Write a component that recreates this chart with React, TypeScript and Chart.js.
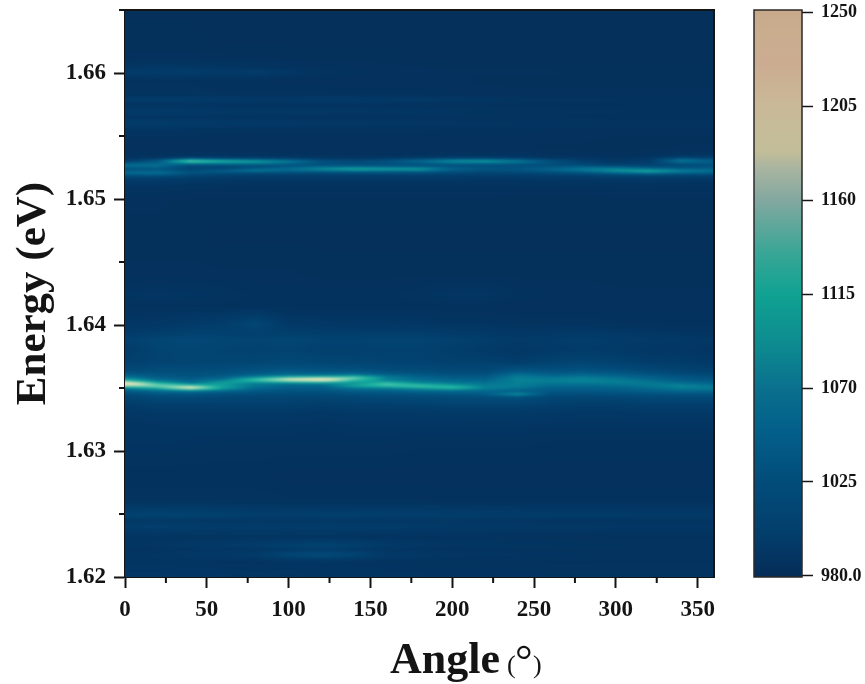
import React, { useEffect, useRef } from "react";
import { Chart, registerables } from "chart.js";

Chart.register(...registerables);

const FONT = "'Liberation Serif', 'Times New Roman', serif";
const INK = "#141414";

const angles = [0, 20, 40, 60, 80, 100, 120, 140, 160, 180, 200, 220, 240, 260, 280, 300, 320, 340, 360];
const xMajor = [0, 50, 100, 150, 200, 250, 300, 350];
const xMinor = [25, 75, 125, 175, 225, 275, 325];
const yMajor = [1.62, 1.63, 1.64, 1.65, 1.66];
const yMinor = [1.625, 1.635, 1.645, 1.655, 1.665];
const barTicks = [980, 1025, 1070, 1115, 1160, 1205, 1250];
const barRange = [979.5, 1251];

const energies = [
  1.665, 1.6626, 1.6612, 1.6604, 1.6601, 1.6594, 1.6583, 1.6579, 1.6575, 1.6569, 1.6565, 1.656, 1.6555, 1.6547, 1.654,
  1.6536, 1.65333, 1.65317, 1.65302, 1.65286, 1.6527, 1.65254, 1.65238, 1.65222, 1.65206, 1.65183, 1.65151, 1.65087, 1.6499,
  1.647, 1.644, 1.6424, 1.6415, 1.6401, 1.6393, 1.63881, 1.63802, 1.63706, 1.63643, 1.63611, 1.63595, 1.63579, 1.63563,
  1.63548, 1.63532, 1.63516, 1.635, 1.63484, 1.63468, 1.63452, 1.63429, 1.63373, 1.6331, 1.632, 1.6306, 1.628, 1.626,
  1.6249, 1.6245, 1.624, 1.6232, 1.6225, 1.6222, 1.6218, 1.6212, 1.62,
];

const intensity = [
  [984, 984, 984, 984, 984, 984, 984, 984, 984, 984, 984, 984, 984, 984, 984, 984, 984, 984, 984],
  [985, 985, 985, 984, 984, 984, 984, 984, 984, 984, 984, 984, 984, 984, 984, 984, 984, 984, 984],
  [986, 986, 986, 986, 986, 985, 985, 985, 985, 984, 984, 984, 984, 984, 984, 984, 984, 984, 984],
  [994, 998, 996, 994, 992, 990, 988, 987, 986, 986, 985, 985, 985, 985, 985, 985, 985, 985, 985],
  [1002, 1004, 1003, 1000, 1003, 996, 990, 988, 987, 986, 986, 986, 986, 986, 985, 985, 985, 985, 985],
  [988, 988, 988, 987, 987, 986, 986, 986, 986, 986, 986, 985, 985, 985, 985, 985, 985, 985, 985],
  [990, 990, 990, 989, 989, 989, 989, 988, 988, 988, 987, 987, 986, 986, 986, 986, 986, 986, 986],
  [1002, 1003, 1002, 1000, 998, 998, 1000, 1000, 998, 998, 995, 994, 992, 990, 990, 989, 988, 988, 988],
  [992, 992, 991, 990, 990, 990, 990, 990, 990, 989, 988, 988, 987, 987, 987, 987, 987, 987, 987],
  [1000, 1000, 999, 997, 996, 996, 996, 995, 994, 994, 993, 992, 990, 990, 989, 989, 988, 988, 988],
  [992, 992, 991, 991, 990, 990, 990, 990, 990, 989, 989, 988, 988, 988, 988, 987, 987, 987, 987],
  [1003, 1002, 1000, 999, 998, 997, 996, 996, 995, 994, 994, 993, 992, 992, 991, 990, 990, 990, 990],
  [992, 992, 991, 990, 990, 990, 990, 989, 989, 989, 988, 988, 988, 987, 987, 987, 987, 987, 987],
  [987, 987, 987, 986, 986, 986, 986, 986, 986, 986, 986, 986, 986, 986, 986, 985, 985, 985, 985],
  [986, 986, 986, 986, 986, 986, 986, 986, 986, 986, 986, 986, 986, 985, 985, 985, 985, 986, 986],
  [987, 988, 990, 990, 990, 988, 987, 987, 987, 988, 990, 990, 990, 988, 986, 986, 987, 990, 990],
  [988, 990, 996, 995, 995, 992, 990, 990, 990, 992, 995, 995, 995, 990, 990, 988, 990, 1002, 1000],
  [992, 1010, 1060, 1040, 1030, 1018, 1004, 1000, 1008, 1025, 1040, 1040, 1025, 1006, 998, 992, 998, 1045, 1025],
  [1002, 1045, 1150, 1115, 1095, 1070, 1032, 1022, 1032, 1055, 1085, 1095, 1070, 1032, 1006, 995, 1002, 1070, 1045],
  [1032, 1040, 1085, 1078, 1075, 1058, 1028, 1022, 1028, 1042, 1060, 1062, 1052, 1028, 1012, 1000, 1006, 1040, 1036],
  [1062, 1062, 1030, 1032, 1036, 1030, 1028, 1026, 1026, 1026, 1028, 1028, 1026, 1025, 1020, 1010, 1010, 1018, 1030],
  [1046, 1050, 1016, 1016, 1022, 1040, 1056, 1060, 1056, 1050, 1036, 1028, 1028, 1036, 1046, 1044, 1030, 1030, 1032],
  [1030, 1032, 1016, 1020, 1048, 1060, 1085, 1105, 1098, 1095, 1050, 1035, 1036, 1050, 1070, 1078, 1062, 1048, 1044],
  [1042, 1048, 1026, 1050, 1068, 1048, 1050, 1060, 1058, 1056, 1036, 1024, 1028, 1040, 1058, 1085, 1108, 1078, 1062],
  [1058, 1062, 1034, 1022, 1018, 1022, 1022, 1024, 1024, 1024, 1018, 1014, 1016, 1020, 1030, 1048, 1060, 1045, 1040],
  [1022, 1022, 1012, 1006, 1004, 1003, 1003, 1003, 1003, 1003, 1003, 1002, 1003, 1004, 1006, 1008, 1010, 1008, 1006],
  [1000, 1000, 997, 995, 994, 994, 994, 994, 994, 994, 994, 993, 993, 994, 994, 995, 995, 994, 994],
  [990, 990, 989, 988, 988, 988, 988, 988, 988, 988, 988, 988, 987, 987, 987, 988, 988, 988, 988],
  [986, 986, 985, 985, 985, 985, 985, 985, 985, 985, 985, 985, 985, 985, 985, 985, 985, 985, 985],
  [985, 985, 985, 984, 984, 984, 984, 984, 984, 984, 984, 984, 984, 984, 984, 984, 984, 984, 984],
  [986, 986, 986, 986, 986, 986, 985, 985, 985, 985, 985, 985, 985, 985, 985, 985, 985, 985, 985],
  [992, 994, 992, 990, 988, 988, 988, 988, 988, 990, 994, 994, 988, 987, 987, 986, 986, 986, 986],
  [988, 988, 988, 988, 987, 987, 987, 987, 987, 987, 987, 987, 986, 986, 986, 986, 986, 986, 986],
  [994, 996, 1000, 1004, 1016, 998, 996, 995, 995, 994, 992, 992, 990, 990, 990, 989, 988, 988, 988],
  [1002, 1006, 1010, 1010, 1008, 1008, 1006, 1006, 1006, 1006, 1002, 999, 996, 998, 999, 998, 995, 993, 991],
  [1008, 1016, 1020, 1016, 1013, 1016, 1012, 1012, 1013, 1013, 1010, 1005, 1000, 1003, 1005, 1002, 1000, 998, 995],
  [1002, 1012, 1015, 1012, 1010, 1012, 1008, 1008, 1010, 1010, 1005, 1000, 995, 1000, 1002, 1000, 995, 995, 992],
  [1008, 1012, 1014, 1015, 1016, 1020, 1016, 1014, 1012, 1012, 1008, 1008, 1004, 1010, 1014, 1010, 1004, 1002, 998],
  [1020, 1024, 1024, 1026, 1030, 1034, 1030, 1030, 1024, 1022, 1018, 1018, 1032, 1028, 1030, 1026, 1018, 1012, 1008],
  [1036, 1032, 1030, 1032, 1042, 1050, 1048, 1052, 1040, 1034, 1028, 1028, 1052, 1042, 1046, 1040, 1032, 1022, 1016],
  [1052, 1038, 1032, 1040, 1060, 1080, 1085, 1100, 1062, 1044, 1036, 1036, 1068, 1055, 1060, 1052, 1040, 1030, 1024],
  [1075, 1046, 1038, 1050, 1100, 1160, 1180, 1155, 1072, 1052, 1042, 1042, 1072, 1066, 1072, 1062, 1048, 1036, 1030],
  [1105, 1060, 1046, 1068, 1135, 1195, 1240, 1125, 1072, 1060, 1050, 1050, 1074, 1072, 1076, 1070, 1056, 1042, 1036],
  [1175, 1085, 1055, 1090, 1095, 1115, 1125, 1095, 1095, 1070, 1060, 1058, 1072, 1070, 1072, 1072, 1064, 1050, 1044],
  [1248, 1135, 1080, 1095, 1065, 1060, 1065, 1085, 1140, 1095, 1075, 1064, 1072, 1062, 1062, 1066, 1068, 1064, 1054],
  [1155, 1155, 1155, 1090, 1065, 1050, 1050, 1100, 1120, 1135, 1105, 1070, 1072, 1052, 1052, 1056, 1064, 1078, 1064],
  [1075, 1115, 1215, 1100, 1055, 1042, 1042, 1065, 1075, 1095, 1125, 1075, 1064, 1046, 1046, 1048, 1056, 1070, 1070],
  [1048, 1068, 1095, 1066, 1042, 1036, 1036, 1048, 1052, 1062, 1066, 1058, 1048, 1040, 1040, 1042, 1048, 1058, 1058],
  [1034, 1048, 1052, 1042, 1034, 1030, 1030, 1038, 1040, 1046, 1048, 1048, 1048, 1034, 1034, 1036, 1040, 1044, 1044],
  [1024, 1034, 1036, 1030, 1026, 1024, 1024, 1028, 1030, 1034, 1036, 1042, 1088, 1028, 1026, 1028, 1030, 1034, 1034],
  [1014, 1022, 1022, 1018, 1016, 1016, 1016, 1018, 1022, 1022, 1024, 1026, 1028, 1018, 1016, 1018, 1020, 1022, 1022],
  [1002, 1008, 1008, 1008, 1008, 1008, 1005, 1008, 1008, 1010, 1012, 1012, 1012, 1008, 1005, 1005, 1008, 1008, 1008],
  [996, 998, 998, 998, 998, 998, 997, 998, 998, 999, 1000, 1000, 1000, 998, 997, 997, 998, 998, 998],
  [992, 993, 993, 993, 993, 993, 992, 993, 993, 993, 993, 993, 993, 992, 992, 992, 992, 992, 992],
  [992, 992, 991, 990, 990, 990, 990, 990, 990, 989, 989, 989, 989, 988, 988, 988, 988, 988, 988],
  [987, 987, 987, 987, 987, 986, 986, 986, 986, 986, 986, 986, 986, 986, 986, 986, 986, 986, 986],
  [990, 990, 990, 990, 990, 989, 989, 989, 989, 989, 988, 988, 988, 988, 988, 988, 988, 988, 988],
  [1012, 1014, 1012, 1010, 1006, 1006, 1008, 1008, 1007, 1006, 1005, 1004, 1003, 1002, 1002, 1002, 1000, 1000, 1000],
  [996, 996, 996, 995, 995, 995, 995, 995, 995, 994, 994, 993, 993, 992, 992, 992, 992, 992, 992],
  [1004, 1006, 1004, 1002, 1004, 1002, 1004, 1003, 1002, 1000, 998, 998, 996, 996, 996, 995, 995, 995, 995],
  [992, 992, 991, 991, 991, 991, 991, 990, 990, 990, 990, 990, 989, 989, 989, 988, 988, 988, 988],
  [992, 994, 997, 1000, 1003, 1008, 1014, 1008, 1000, 996, 994, 993, 992, 992, 991, 991, 990, 990, 990],
  [990, 991, 992, 992, 994, 998, 1000, 998, 992, 991, 990, 990, 989, 989, 988, 988, 988, 988, 988],
  [992, 994, 996, 998, 1002, 1016, 1024, 1014, 1000, 996, 994, 993, 992, 992, 991, 990, 990, 990, 990],
  [992, 992, 992, 991, 991, 992, 992, 991, 990, 990, 990, 989, 989, 988, 988, 988, 988, 988, 988],
  [996, 996, 995, 995, 994, 994, 993, 993, 993, 992, 992, 992, 992, 991, 991, 991, 991, 991, 991],
];

const scaleValues = [980, 1000, 1025, 1050, 1070, 1090, 1115, 1135, 1160, 1175, 1183, 1205, 1225, 1240, 1250];
const barColors = ["#052d58", "#033e6c", "#024c7a", "#03608a", "#0a708e", "#0d8a90", "#10a292", "#3aa696", "#83a8a0", "#a8b4a0", "#c2bd98", "#c9b998", "#ccac92", "#c9ae8e", "#c9a98c"];
const heatColors = ["#052d58", "#023a68", "#024c7a", "#03648c", "#067c94", "#0f9a9a", "#20b4a2", "#4cc4aa", "#8cd4b4", "#b4dcb4", "#cfe0b4", "#e0e0b8", "#ecdfbc", "#f2dfc0", "#f4dec0"];

const rgb = (h: string) => [parseInt(h.slice(1, 3), 16), parseInt(h.slice(3, 5), 16), parseInt(h.slice(5, 7), 16)];

function buildLut(colors: string[]) {
  const parsed = colors.map(rgb);
  return (v: number) => {
    if (v <= scaleValues[0]) return parsed[0];
    for (let i = 1; i < scaleValues.length; i++) {
      if (v <= scaleValues[i]) {
        const t = (v - scaleValues[i - 1]) / (scaleValues[i] - scaleValues[i - 1]);
        return parsed[i].map((c, k) => parsed[i - 1][k] + (c - parsed[i - 1][k]) * t);
      }
    }
    return parsed[parsed.length - 1];
  };
}

const heatPlugin = {
  id: "heat",
  beforeDatasetsDraw(chart: any) {
    const { ctx, chartArea: a, scales } = chart;
    const pts = chart.data.datasets[0].data as { x: number; y: number; v: number }[];
    const nc = angles.length;
    const lut = buildLut(heatColors);
    const w = Math.round(a.right - a.left);
    const h = Math.round(a.bottom - a.top);
    const off = document.createElement("canvas");
    off.width = w;
    off.height = h;
    const octx = off.getContext("2d")!;
    const img = octx.createImageData(w, h);
    for (let py = 0; py < h; py++) {
      const e = scales.y.getValueForPixel(a.top + py + 0.5);
      let r = 0;
      while (r < energies.length - 2 && energies[r + 1] > e) r++;
      const tr = Math.min(1, Math.max(0, (energies[r] - e) / (energies[r] - energies[r + 1])));
      for (let px = 0; px < w; px++) {
        const an = scales.x.getValueForPixel(a.left + px + 0.5);
        let c = 0;
        while (c < nc - 2 && angles[c + 1] < an) c++;
        const tc = Math.min(1, Math.max(0, (an - angles[c]) / (angles[c + 1] - angles[c])));
        const v0 = pts[r * nc + c].v * (1 - tc) + pts[r * nc + c + 1].v * tc;
        const v1 = pts[(r + 1) * nc + c].v * (1 - tc) + pts[(r + 1) * nc + c + 1].v * tc;
        const col = lut(v0 * (1 - tr) + v1 * tr);
        const o = (py * w + px) * 4;
        img.data[o] = col[0];
        img.data[o + 1] = col[1];
        img.data[o + 2] = col[2];
        img.data[o + 3] = 255;
      }
    }
    octx.putImageData(img, 0, 0);
    ctx.save();
    ctx.beginPath();
    ctx.rect(a.left, a.top, a.right - a.left, a.bottom - a.top);
    ctx.clip();
    ctx.drawImage(off, a.left, a.top, a.right - a.left, a.bottom - a.top);
    ctx.filter = "blur(1.3px)";
    ctx.drawImage(off, a.left, a.top, a.right - a.left, a.bottom - a.top);
    ctx.restore();
  },
};

const framePlugin = {
  id: "frame",
  afterDraw(chart: any) {
    const { ctx, chartArea: a, scales } = chart;
    ctx.save();
    ctx.strokeStyle = INK;
    ctx.lineWidth = 2;
    ctx.beginPath();
    ctx.moveTo(a.left, a.top);
    ctx.lineTo(a.right, a.top);
    ctx.lineTo(a.right, a.bottom);
    xMinor.forEach((v) => {
      const x = scales.x.getPixelForValue(v);
      ctx.moveTo(x, a.bottom);
      ctx.lineTo(x, a.bottom + 6);
    });
    yMinor.forEach((v) => {
      const y = scales.y.getPixelForValue(v);
      ctx.moveTo(a.left, y);
      ctx.lineTo(a.left - 6, y);
    });
    ctx.stroke();
    ctx.fillStyle = INK;
    ctx.textBaseline = "alphabetic";
    ctx.textAlign = "left";
    ctx.font = `bold 44px ${FONT}`;
    ctx.fillText("Angle", 390, 673);
    ctx.font = `26px ${FONT}`;
    ctx.fillText("(", 507, 673);
    ctx.fillText(")", 533, 673);
    ctx.font = `44px ${FONT}`;
    ctx.fillText("°", 515, 675);
    ctx.restore();
  },
};

const barFramePlugin = {
  id: "barFrame",
  afterDraw(chart: any) {
    const { ctx, chartArea: a } = chart;
    ctx.save();
    ctx.strokeStyle = "#2a2a2a";
    ctx.lineWidth = 1.5;
    ctx.strokeRect(a.left, a.top, a.right - a.left, a.bottom - a.top);
    ctx.restore();
  },
};

export default function App() {
  const mainRef = useRef<HTMLCanvasElement>(null);
  const barRef = useRef<HTMLCanvasElement>(null);

  useEffect(() => {
    document.body.style.margin = "0";
    const tickFont = { family: FONT, weight: "bold" as const, size: 23 };
    const points: { x: number; y: number; v: number }[] = [];
    energies.forEach((e, r) => angles.forEach((a, c) => points.push({ x: a, y: e, v: intensity[r][c] })));

    const main = new Chart(mainRef.current!, {
      type: "scatter",
      data: { datasets: [{ data: points as any, pointRadius: 0, pointHoverRadius: 0 }] },
      plugins: [heatPlugin, framePlugin],
      options: {
        responsive: false,
        animation: false,
        events: [],
        layout: { padding: { left: 8, top: 10, right: 151, bottom: 0 } },
        plugins: { legend: { display: false }, tooltip: { enabled: false } },
        scales: {
          x: {
            type: "linear",
            min: 0,
            max: 360,
            afterBuildTicks: (s: any) => { s.ticks = xMajor.map((value) => ({ value })); },
            afterFit: (s: any) => { s.height = 107; s.paddingLeft = 0; s.paddingRight = 0; },
            border: { color: INK, width: 2 },
            grid: { drawOnChartArea: false, tickLength: 11, tickColor: INK, tickWidth: 2 },
            ticks: { color: INK, font: tickFont, padding: 8, maxRotation: 0, autoSkip: false },
          },
          y: {
            type: "linear",
            min: 1.62,
            max: 1.665,
            afterBuildTicks: (s: any) => { s.ticks = yMajor.map((value) => ({ value })); },
            afterFit: (s: any) => { s.width = 117; s.paddingTop = 0; s.paddingBottom = 0; },
            border: { color: INK, width: 2 },
            grid: { drawOnChartArea: false, tickLength: 11, tickColor: INK, tickWidth: 2 },
            ticks: { color: INK, font: tickFont, padding: 8, autoSkip: false, callback: (v: any) => Number(v).toFixed(2) },
            title: { display: true, text: "Energy (eV)", color: INK, font: { family: FONT, weight: "bold", size: 43 }, padding: 0 },
          },
        },
      },
    });

    const bar = new Chart(barRef.current!, {
      type: "bar",
      data: {
        labels: ["Intensity"],
        datasets: [{
          data: [barRange] as any,
          barPercentage: 1,
          categoryPercentage: 1,
          backgroundColor: (c: any) => {
            const area = c.chart.chartArea;
            if (!area) return barColors[0];
            const s = c.chart.scales.y;
            const g = c.chart.ctx.createLinearGradient(0, s.getPixelForValue(980), 0, s.getPixelForValue(1250));
            scaleValues.forEach((v, i) => g.addColorStop((v - 980) / 270, barColors[i]));
            return g;
          },
        }],
      },
      plugins: [barFramePlugin],
      options: {
        responsive: false,
        animation: false,
        events: [],
        layout: { padding: { left: 34, top: 10, right: 0, bottom: 107 } },
        plugins: { legend: { display: false }, tooltip: { enabled: false } },
        scales: {
          x: { display: false },
          y: {
            type: "linear",
            position: "right",
            min: barRange[0],
            max: barRange[1],
            afterBuildTicks: (s: any) => { s.ticks = barTicks.map((value) => ({ value })); },
            afterFit: (s: any) => { s.width = 63; s.paddingTop = 0; s.paddingBottom = 0; },
            border: { display: false },
            grid: { drawOnChartArea: false, tickLength: 11, tickColor: INK, tickWidth: 1.5 },
            ticks: {
              color: INK,
              font: { family: FONT, weight: "bold", size: 18 },
              padding: 8,
              autoSkip: false,
              callback: (v: any) => (v === 980 ? "980.0" : String(v)),
            },
          },
        },
      },
    });

    return () => {
      main.destroy();
      bar.destroy();
    };
  }, []);

  return (
    <div style={{ position: "relative", width: 865, height: 684 }}>
      <canvas ref={mainRef} width={865} height={684} style={{ position: "absolute", left: 0, top: 0, display: "block" }} />
      <canvas ref={barRef} width={145} height={684} style={{ position: "absolute", left: 720, top: 0, display: "block" }} />
    </div>
  );
}
